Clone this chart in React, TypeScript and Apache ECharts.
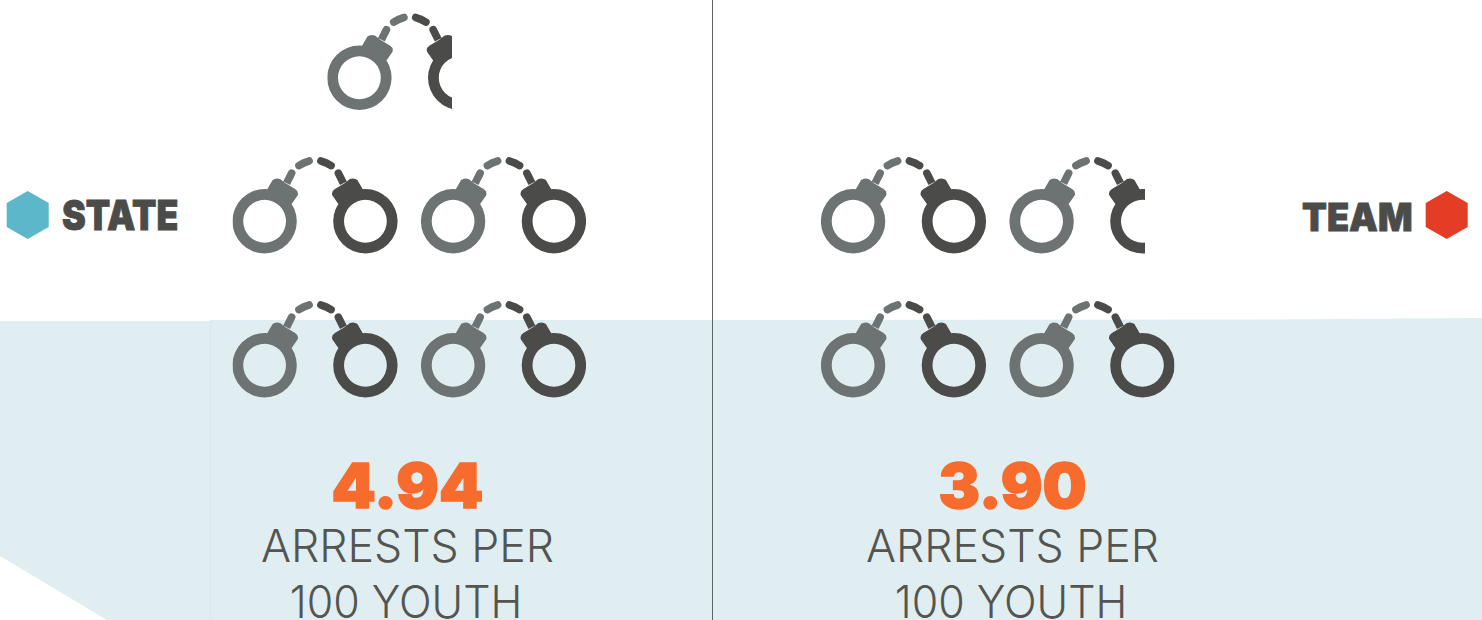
import React, { useEffect, useRef } from "react";
import * as echarts from "echarts";

// Data
const stateRows = [0.94, 2, 2];
const teamRows = [1.9, 2];
const stateValue = "4.94";
const teamValue = "3.90";
const unitLines = ["ARRESTS PER", "100 YOUTH"];
const legendLabels = ["STATE", "TEAM"];

// Layout of each row of cuffs: `width` is the visible clip width, `full` the unclipped width of its pairs
const SYM_W = 165;
const SYM_H = 97;
const rowLayout = [
  { v: stateRows[0], left: 327.3, top: 13, width: 124.7, full: 165 },
  { v: stateRows[1], left: 232.5, top: 156.5, width: 353.5, full: 353.5 },
  { v: stateRows[2], left: 232.5, top: 300.5, width: 353.5, full: 353.5 },
  { v: teamRows[0], left: 821, top: 156.5, width: 324, full: 353.5 },
  { v: teamRows[1], left: 821, top: 300.5, width: 353.5, full: 353.5 },
];

function cuffPath(mirror: boolean): string {
  const X = (x: number) => (mirror ? SYM_W - x : x).toFixed(2);
  const sw = mirror ? 0 : 1;
  const isw = mirror ? 1 : 0;
  const P = (x: number, y: number) => `${X(x)} ${y}`;
  const cx = 32, cy = 64.7, R = 32.2, r = 21.4;
  return [
    // bbox markers so both halves scale identically
    `M${P(0, 0)}L${P(0.01, 0)}Z`,
    `M${P(SYM_W, SYM_H)}L${P(SYM_W - 0.01, SYM_H)}Z`,
    // ring
    `M${P(cx - R, cy)}A${R} ${R} 0 1 ${sw} ${P(cx + R, cy)}A${R} ${R} 0 1 ${sw} ${P(cx - R, cy)}Z`,
    `M${P(cx - r, cy)}A${r} ${r} 0 1 ${isw} ${P(cx + r, cy)}A${r} ${r} 0 1 ${isw} ${P(cx - r, cy)}Z`,
    // lock block
    `M${P(34.5, 33)}L${P(40, 23.5)}Q${P(43, 21)} ${P(47.5, 22.5)}L${P(52.5, 26.5)}L${P(62.5, 32.5)}Q${P(66.5, 35)} ${P(65, 39)}L${P(58, 49)}Z`,
    // link
    `M${P(50.6, 25)}L${P(55.6, 15)}A3.8 3.8 0 0 ${sw} ${P(62.4, 18.5)}L${P(57.4, 28.5)}Z`,
    // dash
    `M${P(64.6, 5.8)}Q${P(69, 2.4)} ${P(75, 1)}A3.8 3.8 0 0 ${sw} ${P(78, 8)}Q${P(72.5, 9.5)} ${P(68, 12.6)}A3.8 3.8 0 0 ${sw} ${P(64.6, 5.8)}Z`,
  ].join("");
}

const GRAY = "#6d7372";
const DARK = "#4b4b49";
const BG = "#e0eef1";
const ORANGE = "#f76c2d";
const TEXT = "#545451";
const HEAVY = "Inter";
const LIGHT = "Inter";

function hexagon(cx: number, color: string) {
  return {
    type: "polygon",
    silent: true,
    shape: {
      points: [
        [cx, 191],
        [cx + 21, 203],
        [cx + 21, 227],
        [cx, 239],
        [cx - 21, 227],
        [cx - 21, 203],
      ],
    },
    style: { fill: color },
  };
}

function label(text: string, x: number, y: number, size: number, weight: number, color: string, align: string, scaleX = 1, stroke = 0, lineHeight?: number) {
  return {
    type: "text",
    silent: true,
    x,
    y,
    scaleX,
    style: {
      text,
      fill: color,
      font: `${weight} ${size}px ${weight >= 900 ? HEAVY : LIGHT}`,
      align,
      verticalAlign: "middle",
      ...(lineHeight ? { lineHeight } : {}),
      ...(stroke ? { stroke: color, lineWidth: stroke, lineJoin: "round" } : {}),
    },
  };
}

export default function App() {
  const ref = useRef<HTMLDivElement>(null);
  useEffect(() => {
    document.body.style.margin = "0";
    const chart = echarts.init(ref.current!, undefined, { renderer: "svg" });

    const grid = rowLayout.map((r) => ({ left: r.left, top: r.top, width: r.width, height: SYM_H, containLabel: false, show: false }));
    const xAxis = rowLayout.map((r, i) => ({ type: "value", gridIndex: i, min: 0, max: r.v, show: false }));
    const yAxis = rowLayout.map((_, i) => ({ type: "category", gridIndex: i, data: ["row"], show: false }));
    const series: any[] = [];
    rowLayout.forEach((r, i) => {
      [false, true].forEach((mirror) => {
        series.push({
          type: "pictorialBar",
          xAxisIndex: i,
          yAxisIndex: i,
          silent: true,
          data: [r.v],
          symbol: "path://" + cuffPath(mirror),
          symbolSize: [SYM_W, SYM_H],
          symbolRepeat: true,
          symbolMargin: 23.5,
          symbolClip: true,
          symbolBoundingData: (r.v * r.full) / r.width,
          symbolPosition: "start",
          symbolKeepAspect: false,
          barCategoryGap: 0,
          barGap: "-100%",
          itemStyle: { color: mirror ? DARK : GRAY },
        });
      });
    });

    chart.setOption({
      animation: false,
      grid,
      xAxis,
      yAxis,
      series,
      graphic: {
        elements: [
          {
            type: "polygon",
            silent: true,
            z: -10,
            shape: {
              points: [
                [0, 321], [210, 321], [210, 320], [712, 320], [1260, 319.5], [1482, 318],
                [1482, 620], [107, 620], [0, 556],
              ],
            },
            style: { fill: BG },
          },
          { type: "line", silent: true, z: -9, shape: { x1: 210.5, y1: 321, x2: 210.5, y2: 620 }, style: { stroke: "#d9e8eb", lineWidth: 1 } },
          { type: "line", silent: true, z: -8, shape: { x1: 712.5, y1: 0, x2: 712.5, y2: 620 }, style: { stroke: "#5d6563", lineWidth: 1 } },
          hexagon(27.7, "#5bb7c9"),
          hexagon(1446.7, "#e43d26"),
          label(legendLabels[0], 62, 215.5, 41, 900, DARK, "left", 0.87, 0.8),
          label(legendLabels[1], 1302, 217, 39, 900, DARK, "left", 0.93, 0.8),
          label(stateValue, 407.5, 485, 62, 900, ORANGE, "center", 1.02, 1.5),
          label(teamValue, 1012.5, 485, 62, 900, ORANGE, "center", 1.0, 1.5),
          label(unitLines[0], 407.5, 545.5, 45, 300, TEXT, "center", 0.99, 0, 34),
          label(unitLines[1], 406, 602, 45, 300, TEXT, "center", 0.955, 0, 34),
          label(unitLines[0], 1012.5, 545.5, 45, 300, TEXT, "center", 0.99, 0, 34),
          label(unitLines[1], 1011, 602, 45, 300, TEXT, "center", 0.955, 0, 34),
        ],
      },
    });
    return () => chart.dispose();
  }, []);
  return <div ref={ref} style={{ width: 1482, height: 620, overflow: "hidden" }} />;
}
